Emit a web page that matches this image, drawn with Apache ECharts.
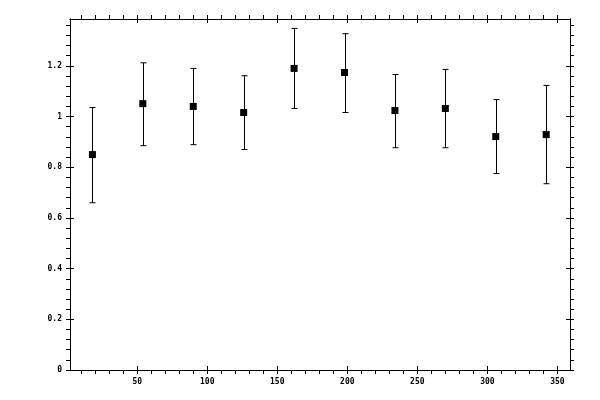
<!DOCTYPE html>
<html>
<head>
<meta charset="utf-8">
<script src="https://cdn.jsdelivr.net/npm/echarts@6/dist/echarts.min.js"></script>
<style>
  html, body { margin: 0; padding: 0; background: #fff; }
  #chart { width: 600px; height: 400px; }
</style>
</head>
<body>
<div id="chart"></div>
<script>
// bin centres (x) and measured ratio with its error range
var xs = [18, 54, 90, 126, 162, 198, 234, 270, 306, 342];
var vals = [0.850, 1.051, 1.040, 1.016, 1.190, 1.174, 1.024, 1.032, 0.921, 0.929];
var upper = [1.036, 1.212, 1.190, 1.161, 1.348, 1.327, 1.166, 1.186, 1.067, 1.123];
var lower = [0.660, 0.885, 0.889, 0.870, 1.032, 1.016, 0.877, 0.877, 0.775, 0.735];

// tick positions
var xMajor = [50, 100, 150, 200, 250, 300, 350];
var xMinor = [10, 20, 30, 40, 50, 60, 70, 80, 90, 100, 110, 120, 130, 140, 150, 160, 170, 180,
              190, 200, 210, 220, 230, 240, 250, 260, 270, 280, 290, 300, 310, 320, 330, 340, 350];
var yMajor = [0, 0.2, 0.4, 0.6, 0.8, 1, 1.2];
var yMinor = [0, 0.04, 0.08, 0.12, 0.16, 0.2, 0.24, 0.28, 0.32, 0.36, 0.4, 0.44, 0.48, 0.52, 0.56,
              0.6, 0.64, 0.68, 0.72, 0.76, 0.8, 0.84, 0.88, 0.92, 0.96, 1, 1.04, 1.08, 1.12, 1.16,
              1.2, 1.24, 1.28, 1.32, 1.36];

var points = xs.map(function (x, i) { return [x, vals[i]]; });
var bars = xs.map(function (x, i) { return [x, lower[i], upper[i]]; });

var font = { fontFamily: 'DejaVu Sans Mono', fontSize: 8, fontWeight: 'bold', color: '#000' };
var line = { show: true, onZero: false, lineStyle: { color: '#000', width: 1 } };

// each side: one axis with outward ticks every minor step, one with inward ticks at majors
function axis(kind, pos, labels, inside) {
    var isX = kind === 'x';
    var ticks = inside ? (isX ? xMajor : yMajor) : (isX ? xMinor : yMinor);
    return {
        type: 'value', position: pos,
        min: isX ? 2 : 0, max: isX ? 359 : 1.385,
        axisLine: line,
        axisTick: { show: true, inside: inside, length: 4, customValues: ticks,
                    lineStyle: { color: '#000', width: 1 } },
        axisLabel: labels ? Object.assign({ margin: 8, customValues: isX ? xMajor : yMajor }, font)
                          : { show: false },
        splitLine: { show: false }
    };
}

var chart = echarts.init(document.getElementById('chart'));
chart.setOption({
    animation: false,
    backgroundColor: '#fff',
    grid: { left: 70, right: 30, top: 19, bottom: 30 },
    xAxis: [axis('x', 'bottom', true, false), axis('x', 'bottom', false, true),
            axis('x', 'top', false, false), axis('x', 'top', false, true)],
    yAxis: [axis('y', 'left', true, false), axis('y', 'left', false, true),
            axis('y', 'right', false, false), axis('y', 'right', false, true)],
    series: [
        {
            type: 'custom',
            data: bars,
            renderItem: function (params, api) {
                var top = api.coord([api.value(0), api.value(2)]);
                var bot = api.coord([api.value(0), api.value(1)]);
                var x = Math.round(top[0]) + 0.5;
                var s = { stroke: '#000', lineWidth: 1 };
                return {
                    type: 'group',
                    children: [
                        { type: 'line', shape: { x1: x, y1: top[1], x2: x, y2: bot[1] }, style: s },
                        { type: 'line', shape: { x1: x - 3, y1: top[1], x2: x + 3, y2: top[1] }, style: s },
                        { type: 'line', shape: { x1: x - 3, y1: bot[1], x2: x + 3, y2: bot[1] }, style: s }
                    ]
                };
            },
            z: 2
        },
        {
            type: 'scatter',
            data: points,
            symbol: 'rect',
            symbolSize: 7,
            itemStyle: { color: '#000', opacity: 1 },
            z: 3
        }
    ]
});
</script>
</body>
</html>
